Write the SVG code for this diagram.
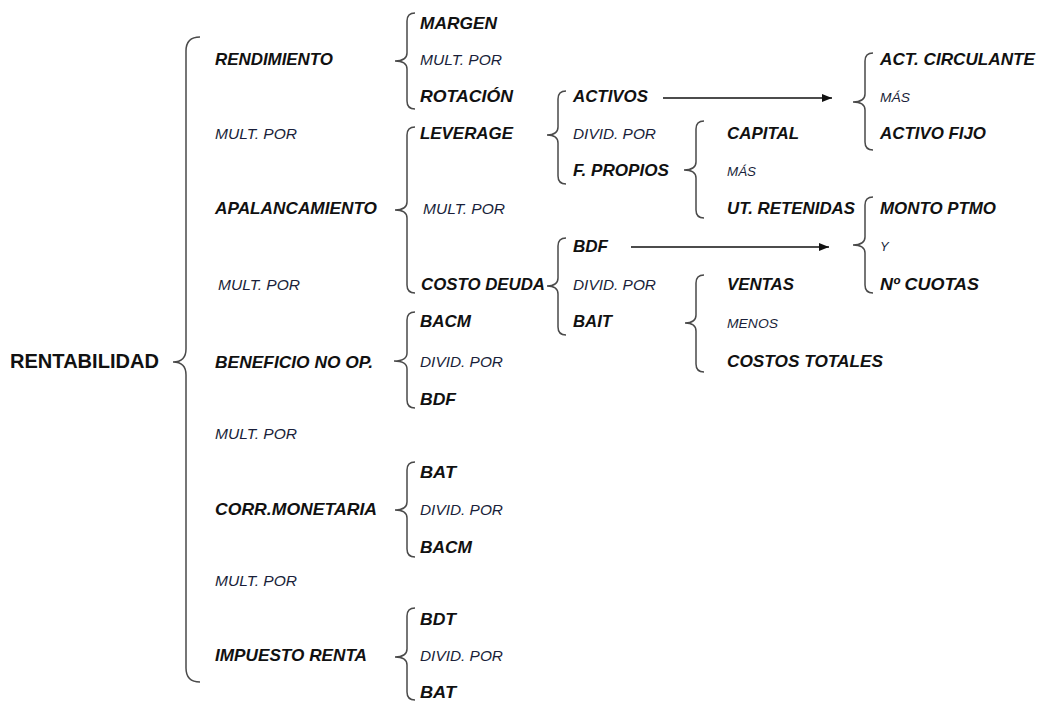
<svg xmlns="http://www.w3.org/2000/svg" width="1038" height="702" viewBox="0 0 1038 702" xml:space="preserve">
<defs>
<style>
text{font-family:"Liberation Sans",Arial,sans-serif;fill:#111}
.b{font-size:17px;font-weight:bold;font-style:italic}
.s{font-size:14px;font-style:italic;fill:#1a1f3a}
.xs{font-size:13px;font-style:italic;fill:#1a1f3a}
.root{font-size:21px;font-weight:bold}
.br{fill:none;stroke:#4a4a4a;stroke-width:1.5}
.ar{fill:none;stroke:#111;stroke-width:1.3}
</style>
<marker id="ah" viewBox="0 0 10 8" refX="10" refY="4" markerWidth="10" markerHeight="8" markerUnits="userSpaceOnUse" orient="auto">
<path d="M0,0 L10,4 L0,8 z" fill="#111"/>
</marker>
</defs>
<rect width="1038" height="702" fill="#fff"/>
<g id="connectors">
<path class="br" d="M200,37 Q186,37 186,51 L186,349 Q186,362 173,362 Q186,362 186,375 L186,668 Q186,682 200,682"/>
<path class="br" d="M415,13 Q407,13 407,21 L407,53 Q407,61 395,61 Q407,61 407,69 L407,101 Q407,109 415,109"/>
<path class="br" d="M415,127 Q407,127 407,135 L407,202 Q407,210 395,210 Q407,210 407,218 L407,285 Q407,293 415,293"/>
<path class="br" d="M566,91 Q558,91 558,99 L558,127 Q558,135 547,135 Q558,135 558,143 L558,176 Q558,184 566,184"/>
<path class="br" d="M704,121 Q696,121 696,129 L696,162 Q696,170 684,170 Q696,170 696,178 L696,210 Q696,218 704,218"/>
<path class="br" d="M873,53 Q865,53 865,61 L865,94 Q865,102 853,102 Q865,102 865,110 L865,142 Q865,150 873,150"/>
<path class="br" d="M873,197 Q865,197 865,205 L865,237 Q865,245 853,245 Q865,245 865,253 L865,285 Q865,293 873,293"/>
<path class="br" d="M566,238 Q558,238 558,246 L558,278 Q558,286 547,286 Q558,286 558,294 L558,327 Q558,335 566,335"/>
<path class="br" d="M704,275 Q696,275 696,283 L696,315 Q696,323 685,323 Q696,323 696,331 L696,364 Q696,372 704,372"/>
<path class="br" d="M415,312 Q407,312 407,320 L407,353 Q407,361 394,361 Q407,361 407,369 L407,400 Q407,408 415,408"/>
<path class="br" d="M415,462 Q407,462 407,470 L407,502 Q407,510 395,510 Q407,510 407,518 L407,549 Q407,557 415,557"/>
<path class="br" d="M415,608 Q407,608 407,616 L407,649 Q407,657 395,657 Q407,657 407,665 L407,692 Q407,700 415,700"/>
<line class="ar" x1="663" y1="98" x2="832" y2="98" marker-end="url(#ah)"/>
<line class="ar" x1="631" y1="247" x2="829" y2="247" marker-end="url(#ah)"/>
</g>
<g id="rentabilidad"><text class="root" x="10" y="368" textLength="149" lengthAdjust="spacingAndGlyphs">RENTABILIDAD</text></g>
<g id="rendimiento"><text class="b" x="215" y="65" textLength="118" lengthAdjust="spacingAndGlyphs">RENDIMIENTO</text></g>
<g id="mult1"><text class="s" x="215" y="139" textLength="82" lengthAdjust="spacingAndGlyphs">MULT.  POR</text></g>
<g id="apalancamiento"><text class="b" x="215" y="214" textLength="162" lengthAdjust="spacingAndGlyphs">APALANCAMIENTO</text></g>
<g id="mult2"><text class="s" x="218" y="290" textLength="82" lengthAdjust="spacingAndGlyphs">MULT.  POR</text></g>
<g id="beneficio"><text class="b" x="215" y="368" textLength="158" lengthAdjust="spacingAndGlyphs">BENEFICIO NO OP.</text></g>
<g id="mult3"><text class="s" x="215" y="439" textLength="82" lengthAdjust="spacingAndGlyphs">MULT.  POR</text></g>
<g id="corr"><text class="b" x="215" y="515" textLength="162" lengthAdjust="spacingAndGlyphs">CORR.MONETARIA</text></g>
<g id="mult4"><text class="s" x="215" y="586" textLength="82" lengthAdjust="spacingAndGlyphs">MULT.  POR</text></g>
<g id="impuesto"><text class="b" x="215" y="661" textLength="152" lengthAdjust="spacingAndGlyphs">IMPUESTO RENTA</text></g>
<g id="margen"><text class="b" x="420" y="29" textLength="77" lengthAdjust="spacingAndGlyphs">MARGEN</text></g>
<g id="mult5"><text class="s" x="420" y="65" textLength="82" lengthAdjust="spacingAndGlyphs">MULT.  POR</text></g>
<g id="rotacion"><text class="b" x="420" y="102" textLength="93" lengthAdjust="spacingAndGlyphs">ROTACIÓN</text></g>
<g id="leverage"><text class="b" x="420" y="139" textLength="93" lengthAdjust="spacingAndGlyphs">LEVERAGE</text></g>
<g id="mult6"><text class="s" x="423" y="214" textLength="82" lengthAdjust="spacingAndGlyphs">MULT.  POR</text></g>
<g id="costodeuda"><text class="b" x="421" y="290" textLength="124" lengthAdjust="spacingAndGlyphs">COSTO DEUDA</text></g>
<g id="bacm1"><text class="b" x="420" y="327" textLength="51" lengthAdjust="spacingAndGlyphs">BACM</text></g>
<g id="divid1"><text class="s" x="420" y="367" textLength="83" lengthAdjust="spacingAndGlyphs">DIVID.  POR</text></g>
<g id="bdf1"><text class="b" x="420" y="405" textLength="36" lengthAdjust="spacingAndGlyphs">BDF</text></g>
<g id="bat1"><text class="b" x="420" y="478" textLength="36" lengthAdjust="spacingAndGlyphs">BAT</text></g>
<g id="divid2"><text class="s" x="420" y="515" textLength="83" lengthAdjust="spacingAndGlyphs">DIVID.  POR</text></g>
<g id="bacm2"><text class="b" x="420" y="553" textLength="52" lengthAdjust="spacingAndGlyphs">BACM</text></g>
<g id="bdt"><text class="b" x="420" y="625" textLength="36" lengthAdjust="spacingAndGlyphs">BDT</text></g>
<g id="divid3"><text class="s" x="420" y="661" textLength="83" lengthAdjust="spacingAndGlyphs">DIVID.  POR</text></g>
<g id="bat2"><text class="b" x="420" y="698" textLength="36" lengthAdjust="spacingAndGlyphs">BAT</text></g>
<g id="activos"><text class="b" x="573" y="102" textLength="75" lengthAdjust="spacingAndGlyphs">ACTIVOS</text></g>
<g id="divid4"><text class="s" x="573" y="139" textLength="83" lengthAdjust="spacingAndGlyphs">DIVID.  POR</text></g>
<g id="fpropios"><text class="b" x="573" y="176" textLength="96" lengthAdjust="spacingAndGlyphs">F. PROPIOS</text></g>
<g id="bdf2"><text class="b" x="573" y="252" textLength="35" lengthAdjust="spacingAndGlyphs">BDF</text></g>
<g id="divid5"><text class="s" x="573" y="290" textLength="83" lengthAdjust="spacingAndGlyphs">DIVID.  POR</text></g>
<g id="bait"><text class="b" x="573" y="327" textLength="39" lengthAdjust="spacingAndGlyphs">BAIT</text></g>
<g id="capital"><text class="b" x="727" y="139" textLength="72" lengthAdjust="spacingAndGlyphs">CAPITAL</text></g>
<g id="mas1"><text class="xs" x="727" y="176" textLength="29" lengthAdjust="spacingAndGlyphs">MÁS</text></g>
<g id="utretenidas"><text class="b" x="727" y="214" textLength="128" lengthAdjust="spacingAndGlyphs">UT. RETENIDAS</text></g>
<g id="ventas"><text class="b" x="727" y="290" textLength="67" lengthAdjust="spacingAndGlyphs">VENTAS</text></g>
<g id="menos"><text class="xs" x="727" y="328" textLength="51" lengthAdjust="spacingAndGlyphs">MENOS</text></g>
<g id="costostotales"><text class="b" x="727" y="367" textLength="156" lengthAdjust="spacingAndGlyphs">COSTOS TOTALES</text></g>
<g id="actcirculante"><text class="b" x="880" y="65" textLength="155" lengthAdjust="spacingAndGlyphs">ACT. CIRCULANTE</text></g>
<g id="mas2"><text class="xs" x="880" y="102" textLength="30" lengthAdjust="spacingAndGlyphs">MÁS</text></g>
<g id="activofijo"><text class="b" x="880" y="139" textLength="106" lengthAdjust="spacingAndGlyphs">ACTIVO FIJO</text></g>
<g id="montoptmo"><text class="b" x="880" y="214" textLength="116" lengthAdjust="spacingAndGlyphs">MONTO PTMO</text></g>
<g id="y"><text class="xs" x="880" y="251">Y</text></g>
<g id="ncuotas"><text class="b" x="880" y="290" textLength="99" lengthAdjust="spacingAndGlyphs">Nº  CUOTAS</text></g>
</svg>
